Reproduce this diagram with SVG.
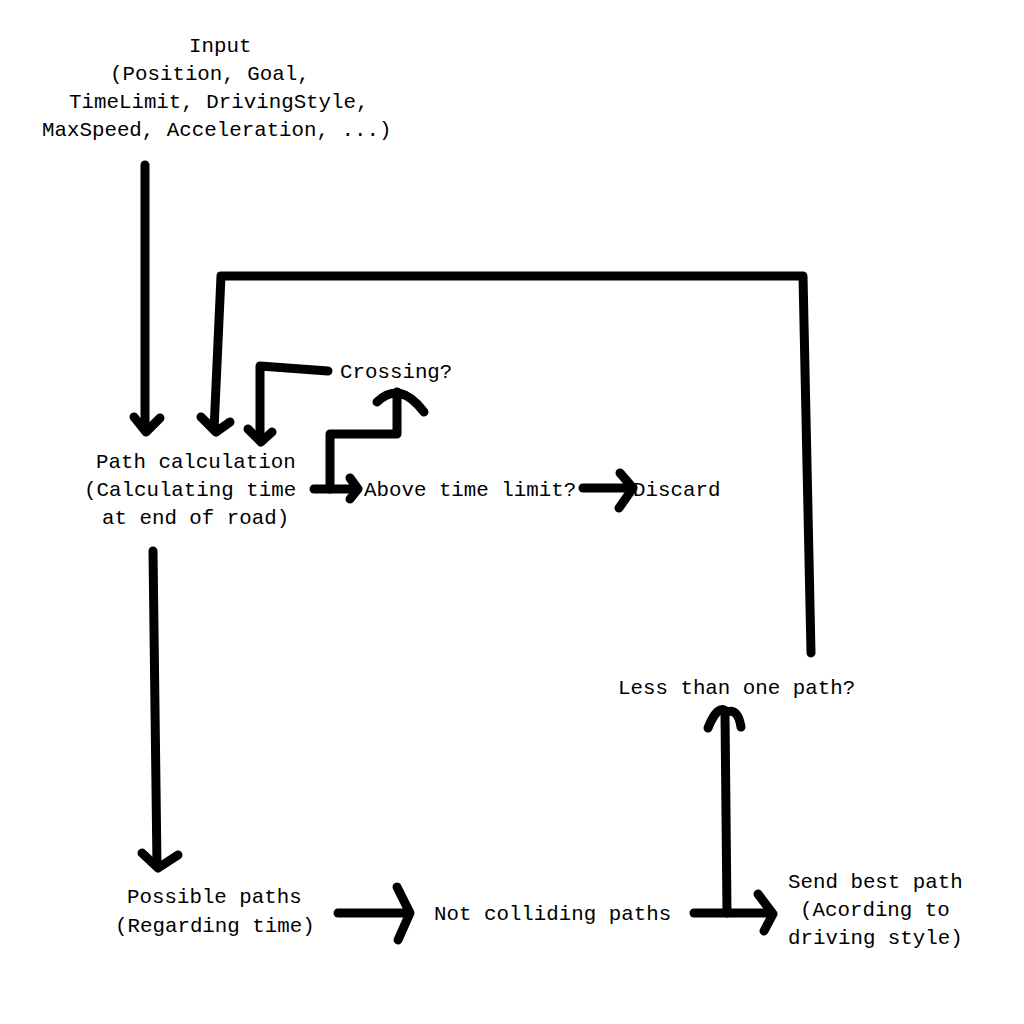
<svg xmlns="http://www.w3.org/2000/svg" width="1024" height="1024" viewBox="0 0 1024 1024">
<style>
.t{font-family:"Liberation Mono","DejaVu Sans Mono",monospace;font-size:20.8px;fill:#000}
.c{fill:none;stroke:#000;stroke-width:9;stroke-linecap:round;stroke-linejoin:round}
</style>
<rect width="1024" height="1024" fill="#fff"/>
<g id="connectors">
<path class="c" d="M145,165 L145,430"/>
<path class="c" d="M134,417 L146,432 L160,418"/>
<path class="c" d="M811,653 L803,276 L221,276 L214,430"/>
<path class="c" d="M201,417 L216,432 L230,422"/>
<path class="c" d="M328,371 L260,366 L260,440"/>
<path class="c" d="M248,429 L261,442 L272,432"/>
<path class="c" d="M314,489 L355,489"/>
<path class="c" d="M350,478 L358,489 L350,499"/>
<path class="c" d="M330,489 L330,434 L397,434 L397,392"/>
<path class="c" d="M377,402 Q400,380 424,412"/>
<path class="c" d="M583,488 L631,488"/>
<path class="c" d="M620,473 L633,488 L619,508"/>
<path class="c" d="M153,551 L157,866"/>
<path class="c" d="M142,853 L158,868 L178,855"/>
<path class="c" d="M338,913 L409,913"/>
<path class="c" d="M397,887 L410,913 L398,940"/>
<path class="c" d="M694,913 L772,913"/>
<path class="c" d="M758,894 L773,914 L764,931"/>
<path class="c" d="M727,913 L725,714"/>
<path class="c" d="M708,728 Q718,703 727,712 Q738,708 741,727"/>
</g>
<g id="input">
<text class="t" x="189" y="52">Input</text>
<text class="t" x="110" y="80">(Position, Goal,</text>
<text class="t" x="69" y="108">TimeLimit, DrivingStyle,</text>
<text class="t" x="42" y="136">MaxSpeed, Acceleration, ...)</text>
</g>
<g id="path-calculation">
<text class="t" x="96" y="468">Path calculation</text>
<text class="t" x="84" y="496">(Calculating time</text>
<text class="t" x="102" y="524">at end of road)</text>
</g>
<g id="crossing">
<text class="t" x="340" y="378">Crossing?</text>
</g>
<g id="above-time-limit">
<text class="t" x="364" y="496">Above time limit?</text>
</g>
<g id="discard">
<text class="t" x="633" y="496">Discard</text>
</g>
<g id="less-than-one-path">
<text class="t" x="618" y="694">Less than one path?</text>
</g>
<g id="possible-paths">
<text class="t" x="127" y="903">Possible paths</text>
<text class="t" x="115" y="932">(Regarding time)</text>
</g>
<g id="not-colliding">
<text class="t" x="434" y="920">Not colliding paths</text>
</g>
<g id="send-best-path">
<text class="t" x="788" y="888">Send best path</text>
<text class="t" x="800" y="916">(Acording to</text>
<text class="t" x="788" y="944">driving style)</text>
</g>
</svg>
